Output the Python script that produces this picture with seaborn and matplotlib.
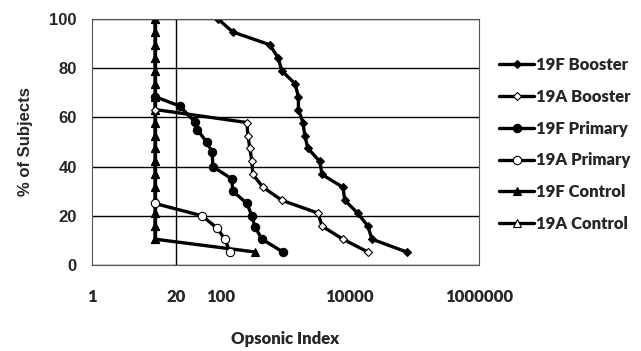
import matplotlib
matplotlib.use("Agg")
import matplotlib.pyplot as plt
import seaborn as sns

# % of subjects (reverse cumulative) vs opsonic index
f_boost_x = [90, 153, 575, 770, 880, 1410, 1590, 1590, 1870, 2000, 2230, 3420, 3690, 7800, 8350, 13200, 19000, 22000, 76000]
f_boost_y = [100, 94.7, 89.5, 84.2, 78.9, 73.7, 68.4, 63.2, 57.9, 52.6, 47.4, 42.1, 36.8, 31.6, 26.3, 21.1, 15.8, 10.5, 5.3]

a_boost_x = [9.5, 253, 262, 281, 302, 312, 450, 880, 3200, 3700, 7800, 19000]
a_boost_y = [63.2, 57.9, 52.6, 47.4, 42.1, 36.8, 31.6, 26.3, 21.1, 15.8, 10.5, 5.3]

f_prim_x = [9.5, 23, 40, 43, 60, 73, 75, 147, 153, 253, 302, 336, 433, 913]
f_prim_y = [68.4, 64.6, 58, 55, 50, 46, 40, 35, 30, 25, 20, 15.5, 10.5, 5.3]

a_prim_x = [9.5, 51, 87, 115, 138]
a_prim_y = [25, 20, 15, 10.5, 5.3]

f_ctrl_x = [9.5, 9.5, 9.5, 9.5, 9.5, 9.5, 9.5, 9.5, 9.5, 9.5, 9.5, 9.5, 9.5, 9.5, 9.5, 9.5, 9.5, 9.5, 336]
f_ctrl_y = [100, 94.7, 89.5, 84.2, 78.9, 73.7, 68.4, 63.2, 57.9, 52.6, 47.4, 42.1, 36.8, 31.6, 26.3, 21.1, 15.8, 10.5, 5.3]

a_ctrl_x = [9.5, 9.5, 9.5, 9.5, 9.5, 9.5, 9.5, 9.5, 9.5, 9.5, 9.5, 9.5, 9.5, 9.5, 9.5, 9.5, 9.5, 9.5]
a_ctrl_y = [100, 94.7, 89.5, 84.2, 78.9, 73.7, 68.4, 63.2, 57.9, 52.6, 47.4, 42.1, 36.8, 31.6, 26.3, 21.1, 15.8, 10.5]

xticks = [1, 20, 100, 10000, 1000000]
xtick_labels = ["1", "20", "100", "10000", "1000000"]
yticks = [0, 20, 40, 60, 80, 100]

sns.set_theme(style="white")
plt.rcParams['font.family'] = ['Lato', 'DejaVu Sans']

fig = plt.figure(figsize=(6.41, 3.51), dpi=100)
ax = fig.add_axes([0.1435, 0.245, 0.6035, 0.701])

series = [
    ("19F Booster", f_boost_x, f_boost_y, "D", "black"),
    ("19A Booster", a_boost_x, a_boost_y, "D", "white"),
    ("19F Primary", f_prim_x, f_prim_y, "o", "black"),
    ("19A Primary", a_prim_x, a_prim_y, "o", "white"),
    ("19F Control", f_ctrl_x, f_ctrl_y, "^", "black"),
    ("19A Control", a_ctrl_x, a_ctrl_y, "^", "white"),
]
# draw in reverse so filled controls end up on top like the original
for name, xs, ys, mk, fc in reversed(series):
    ms = 4.5 if mk == "D" else 6
    sns.lineplot(x=xs, y=ys, ax=ax, color="black", lw=2.4, marker=mk, markersize=ms,
                 markerfacecolor=fc, markeredgecolor="black", markeredgewidth=0.8,
                 sort=False, estimator=None, label=name)

ax.set_xscale("log")
ax.set_xlim(1, 1000000)
ax.set_ylim(0, 100)
ax.set_xticks(xticks)
ax.set_xticklabels(xtick_labels)
ax.minorticks_off()
ax.set_yticks(yticks)
ax.axvline(20, color="black", lw=1)
ax.yaxis.grid(True, color="black", lw=1)
ax.xaxis.grid(False)
for s in ax.spines.values():
    s.set_color("#555555")
    s.set_linewidth(0.8)

ax.tick_params(axis="x", length=0, pad=17, labelsize=12)
ax.tick_params(axis="y", length=0, pad=11, labelsize=12)
for t in ax.get_xticklabels():
    t.set_fontweight("heavy")
for t in ax.get_yticklabels():
    t.set_fontweight("bold")
    t.set_family(["Liberation Sans", "DejaVu Sans"])

ax.set_xlabel("Opsonic Index", fontsize=12, fontweight="heavy", labelpad=19)
ax.set_ylabel("% of Subjects", fontsize=12, fontweight="bold", labelpad=12,
              family=["Liberation Sans", "DejaVu Sans"])

handles, labels = ax.get_legend_handles_labels()
order = [labels.index(s[0]) for s in series]
leg = ax.legend([handles[i] for i in order], [labels[i] for i in order],
                loc="center left", bbox_to_anchor=(1.035, 0.49), frameon=False,
                fontsize=12, labelspacing=0.95, handlelength=2.1, handletextpad=0.1,
                borderaxespad=0)
for t in leg.get_texts():
    t.set_fontweight("heavy")

fig.savefig("out.png", dpi=100)
